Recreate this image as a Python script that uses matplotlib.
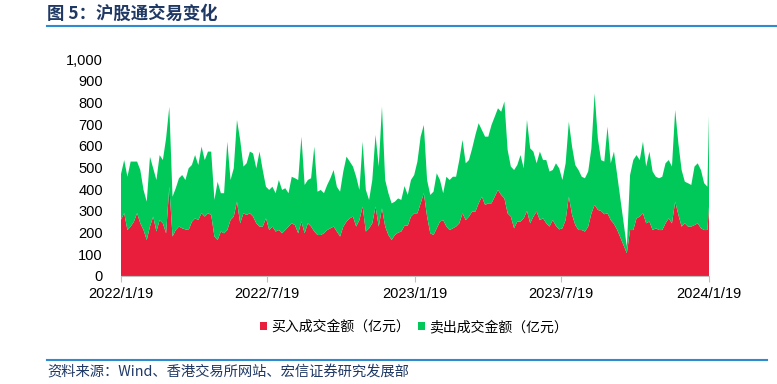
import numpy as np
import pandas as pd
import matplotlib
matplotlib.use("Agg")
import matplotlib.pyplot as plt
import matplotlib.dates as mdates
from matplotlib.lines import Line2D

plt.rcParams['font.family'] = ['Liberation Sans', 'Noto Sans CJK SC', 'DejaVu Sans']

# sampled every 4 calendar days from 2022/1/19, no trading during the 2023 National Day break
dates = pd.date_range('2022-01-19', periods=183, freq='4D')
dates = dates[(dates < '2023-09-28') | (dates > '2023-10-08')]
dates = dates.append(pd.DatetimeIndex(['2024-01-19']))

# 买入成交金额（亿元）
buy = [260, 290, 212, 228, 250, 290, 243, 212, 166, 228, 274, 205, 258, 243, 197, 412, 182, 212, 228, 220, 215, 212, 250, 266, 258, 290,
       274, 289, 282, 182, 166, 205, 197, 212, 258, 274, 343, 243, 289, 282, 289, 274, 243, 228, 228, 266, 212, 228, 205, 212, 197,
       212, 228, 243, 235, 197, 251, 197, 243, 228, 205, 189, 189, 197, 212, 220, 228, 205, 182, 228, 251, 266, 274, 228, 258, 320,
       205, 220, 243, 320, 228, 312, 228, 189, 166, 189, 200, 205, 232, 232, 274, 289, 289, 335, 382, 274, 197, 189, 220, 251, 258,
       228, 212, 220, 228, 243, 289, 258, 274, 297, 297, 335, 366, 328, 335, 335, 366, 397, 374, 358, 289, 274, 220, 251, 251, 266, 300,
       243, 274, 297, 258, 266, 243, 228, 258, 231, 215, 220, 258, 366, 282, 235, 212, 212, 205, 228, 289, 328, 305, 300, 285, 289,
       258, 240, 213,
       105, 212, 212, 266, 274, 289, 243, 251, 212, 220, 212, 212, 243, 266, 243, 343, 282, 228, 243, 228, 228, 235, 243, 220, 212, 212,
       320]

# 卖出成交金额（亿元）
sell = [210, 245, 246, 300, 278, 238, 246, 185, 177, 322, 223, 238, 300, 292, 438, 369, 184, 193, 223, 246, 228, 285, 262, 292, 254, 307,
        261, 285, 292, 169, 269, 177, 185, 408, 185, 223, 377, 385, 216, 238, 285, 292, 254, 346, 261, 146, 185, 184, 177, 231, 200,
        193, 154, 215, 216, 246, 392, 223, 200, 223, 392, 200, 208, 185, 208, 231, 261, 207, 207, 254, 300, 262, 231, 230, 139, 300,
        192, 131, 200, 331, 277, 470, 215, 193, 169, 154, 158, 146, 183, 142, 169, 177, 239, 308, 315, 169, 177, 200, 254, 192, 124,
        230, 231, 238, 230, 292, 339, 262, 261, 292, 354, 370, 308, 315, 308, 362, 369, 377, 384, 447, 293, 231, 269, 261, 307, 231, 420,
        346, 300, 223, 316, 269, 292, 254, 231, 289, 282, 223, 262, 346, 315, 277, 277, 246, 246, 254, 300, 515, 330, 235, 243, 400,
        262, 334, 253,
        30, 254, 323, 292, 261, 331, 262, 323, 270, 238, 239, 246, 277, 269, 262, 423, 330, 261, 192, 200, 192, 270, 277, 269, 216, 200,
        423]

tick_dates = ['2022-01-19', '2022-07-19', '2023-01-19', '2023-07-19', '2024-01-19']
tick_labels = ['2022/1/19', '2022/7/19', '2023/1/19', '2023/7/19', '2024/1/19']
y_ticks = [0, 100, 200, 300, 400, 500, 600, 700, 800, 900, 1000]

red = '#E91E3C'
green = '#00C95A'
navy = '#1F3864'
blue = '#2E8BD0'

fig = plt.figure(figsize=(7.77, 3.84), dpi=100)
ax = fig.add_axes([0.1557, 0.2813, 0.7568, 0.5643])

ax.stackplot(dates, buy, sell, colors=[red, green], linewidth=0,
             labels=['买入成交金额（亿元）', '卖出成交金额（亿元）'])

ax.set_xlim(pd.Timestamp('2022-01-19'), pd.Timestamp('2024-01-19'))
ax.set_ylim(0, 1000)
ax.set_yticks(y_ticks)
ax.set_yticklabels(['{:,}'.format(v) for v in y_ticks], fontsize=10.5)
ax.set_xticks(pd.to_datetime(tick_dates))
ax.set_xticklabels(tick_labels, fontsize=10.5)
ax.tick_params(axis='y', length=0, pad=13)
ax.tick_params(axis='x', length=4, color='#BFBFBF', pad=4)

for s in ['left', 'right', 'top']:
    ax.spines[s].set_visible(False)
ax.spines['bottom'].set_color('#BFBFBF')

leg = fig.legend(loc='center', bbox_to_anchor=(0.533, 0.148), ncol=2, frameon=False,
                 prop={'family': ['Noto Sans CJK SC'], 'size': 10},
                 handlelength=0.5, handleheight=0.5, handletextpad=0.3, columnspacing=0.6)

# title and rules
fig.text(0.0605, 0.9635, '图 5：沪股通交易变化', fontsize=12.5, fontweight='bold',
         color=navy, family=['Noto Sans CJK SC'], va='center', ha='left')
fig.add_artist(Line2D([0.0605, 1.0], [0.932, 0.932], color=blue, linewidth=1.5))
fig.add_artist(Line2D([0.0605, 0.987], [0.0625, 0.0625], color=blue, linewidth=1.5))
fig.text(0.0605, 0.029, '资料来源：Wind、香港交易所网站、宏信证券研究发展部', fontsize=10.3,
         color=navy, family=['Noto Sans CJK SC'], va='center', ha='left')

fig.savefig('out.png', dpi=100)
